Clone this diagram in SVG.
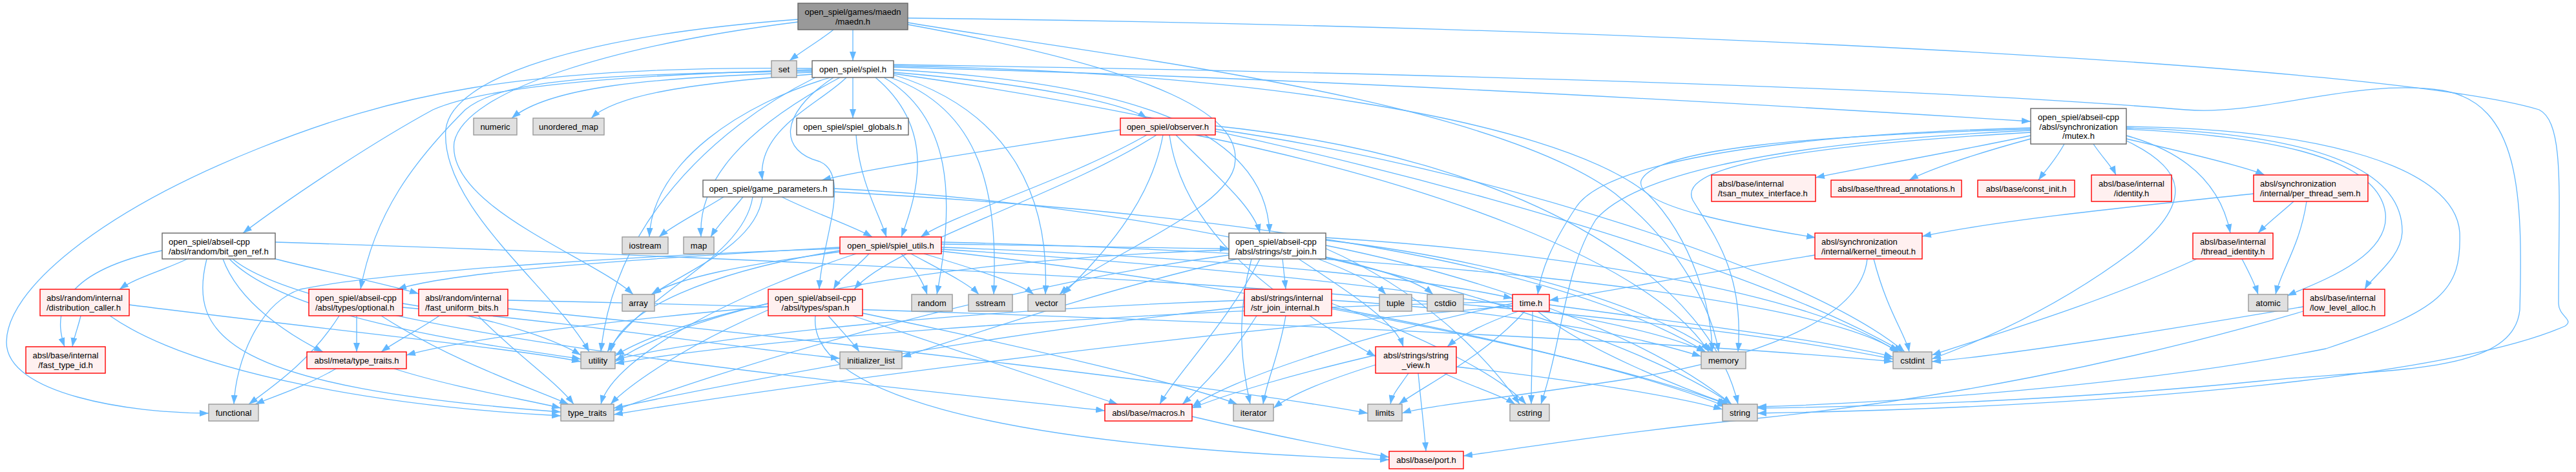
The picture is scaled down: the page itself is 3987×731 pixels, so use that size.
<svg xmlns="http://www.w3.org/2000/svg" width="3987" height="731" viewBox="0 0 3987 731">
<defs>
<marker id="a" viewBox="0 0 14 10" markerWidth="14" markerHeight="10" refX="14" refY="5" orient="auto" markerUnits="userSpaceOnUse"><path d="M0,0 L14,5 L0,10 z" fill="#63b8ff"/></marker>
</defs>
<style>
rect.root{fill:#999999;stroke:#666666;stroke-width:1.4}
rect.doc{fill:#ffffff;stroke:#666666;stroke-width:1.4}
rect.red{fill:#fff0f0;stroke:#ff0000;stroke-width:1.4}
rect.sys{fill:#e0e0e0;stroke:#999999;stroke-width:1.4}
text{font-family:"Liberation Sans",Arial,sans-serif;font-size:13px;fill:#000000}
text.c{text-anchor:middle}
#edges path{fill:none;stroke:#63b8ff;stroke-width:1.3;marker-end:url(#a)}
</style>
<rect width="3987" height="731" fill="#ffffff"/>
<g id="edges">
<path d="M1290,46 C1270,62 1240,80 1222,94"/>
<path d="M1320,46 L1320,94"/>
<path d="M1235,34 C950,70 720,140 703,220 C690,320 920,400 980,456"/>
<path d="M1235,30 C900,55 700,120 690,200 C680,320 860,450 912,545"/>
<path d="M1405,35 C1700,85 2300,150 2500,300 C2600,380 2650,480 2660,545"/>
<path d="M1405,38 C1800,110 1930,180 1910,260 C1890,330 1700,400 1640,456"/>
<path d="M1405,28 C2500,40 3700,100 3930,170 C3970,190 3960,300 3960,470 C3960,490 3985,495 3970,505 C3800,580 3300,630 2720,640"/>
<path d="M1257,112 C1000,120 850,135 792,183"/>
<path d="M1257,115 C1050,130 950,150 915,183"/>
<path d="M1257,108 C1000,115 760,130 670,170 C560,230 430,320 376,361"/>
<path d="M1257,106 C800,100 600,150 400,230 C150,330 10,450 10,530 C10,610 200,640 323,640"/>
<path d="M1257,110 C950,115 780,120 720,170 C640,250 580,330 558,448"/>
<path d="M1262,120 C1100,200 950,350 930,545"/>
<path d="M1285,120 C1150,160 1010,250 1005,367"/>
<path d="M1300,120 C1150,200 1080,280 1085,367"/>
<path d="M1310,120 C1270,160 1170,200 1180,279"/>
<path d="M1290,120 C1200,180 1210,235 1268,250 C1320,270 1270,380 1268,448"/>
<path d="M1320,120 L1320,183"/>
<path d="M1355,120 C1450,200 1420,300 1395,367"/>
<path d="M1368,120 C1470,180 1480,300 1450,456"/>
<path d="M1378,120 C1520,170 1545,300 1538,456"/>
<path d="M1383,116 C1560,170 1625,300 1618,456"/>
<path d="M1383,112 C1600,130 1740,160 1775,183"/>
<path d="M1383,108 C1800,130 1960,220 1965,361"/>
<path d="M1383,104 C2000,120 2700,160 3143,188"/>
<path d="M1383,102 C1900,110 2400,180 2550,300 C2620,370 2650,480 2650,545"/>
<path d="M1383,100 C2000,110 2900,130 3383,170 C3500,180 3650,120 3780,140 C3900,160 3905,300 3900,480 C3890,580 3700,570 3500,590 C3200,620 2900,630 2720,632"/>
<path d="M1383,114 C2000,200 2700,400 2945,545"/>
<path d="M1325,209 C1330,280 1360,330 1372,367"/>
<path d="M1734,201 C1550,230 1350,260 1272,279"/>
<path d="M1775,209 C1650,280 1480,330 1425,367"/>
<path d="M1790,209 C1650,300 1380,380 1322,448"/>
<path d="M1800,209 C1780,320 1700,400 1645,456"/>
<path d="M1810,209 C1830,350 1950,450 2129,552"/>
<path d="M1820,209 C1880,270 1940,320 1950,361"/>
<path d="M1850,209 C2200,280 2550,400 2645,545"/>
<path d="M1881,200 C2300,260 2800,420 2948,545"/>
<path d="M1881,195 C2400,250 2650,450 2690,626"/>
<path d="M1120,305 C1080,330 1040,350 1020,367"/>
<path d="M1150,305 C1130,330 1110,350 1100,367"/>
<path d="M1210,305 C1260,330 1320,350 1350,367"/>
<path d="M1165,305 C1150,400 1000,450 940,545"/>
<path d="M1180,305 C1170,380 1060,420 1010,456"/>
<path d="M1290,292 C1900,320 2500,500 2680,626"/>
<path d="M1290,297 C1900,330 2400,400 2640,545"/>
<path d="M1345,393 C1320,420 1300,430 1290,448"/>
<path d="M1395,393 C1420,420 1430,440 1435,456"/>
<path d="M1410,393 C1460,420 1500,440 1515,456"/>
<path d="M1430,393 C1520,420 1580,440 1600,456"/>
<path d="M1300,383 C1000,400 700,420 615,448"/>
<path d="M1300,388 C1100,420 960,480 945,545"/>
<path d="M1325,393 C1150,450 950,550 930,626"/>
<path d="M1300,385 C1000,395 600,420 465,448 C400,470 365,560 362,626"/>
<path d="M1300,390 C1150,410 1050,430 1008,456"/>
<path d="M1457,378 C1650,380 1800,385 1902,385"/>
<path d="M1457,383 C1900,400 2200,430 2341,462"/>
<path d="M1457,386 C2000,420 2500,480 2640,545"/>
<path d="M1457,389 C2000,450 2500,560 2672,626"/>
<path d="M1457,375 C2100,390 2800,450 2938,545"/>
<path d="M251,388 C100,420 80,480 100,537"/>
<path d="M290,401 C250,420 210,430 185,448"/>
<path d="M320,401 C290,520 350,600 868,638"/>
<path d="M345,401 C370,470 450,520 500,545"/>
<path d="M426,401 C500,420 600,440 648,455"/>
<path d="M355,401 C450,500 800,540 899,556"/>
<path d="M426,375 C1200,400 2400,450 2930,556"/>
<path d="M360,401 C500,520 1400,600 1710,636"/>
<path d="M125,489 C120,510 115,520 112,537"/>
<path d="M200,472 C500,510 800,540 899,560"/>
<path d="M170,489 C300,580 600,630 868,644"/>
<path d="M525,489 C480,560 420,600 385,626"/>
<path d="M552,489 L552,545"/>
<path d="M590,489 C700,560 820,600 880,626"/>
<path d="M623,470 C750,490 850,520 899,550"/>
<path d="M623,476 C900,500 1150,540 1300,555"/>
<path d="M680,489 C650,510 610,530 590,545"/>
<path d="M740,489 C800,550 860,590 888,626"/>
<path d="M786,465 C1500,480 2500,520 2930,560"/>
<path d="M786,478 C1300,530 1900,600 2117,640"/>
<path d="M520,571 C470,600 420,615 395,626"/>
<path d="M610,571 C700,600 820,620 868,632"/>
<path d="M1189,470 C1100,490 1000,520 952,551"/>
<path d="M1189,480 C1050,540 970,600 945,626"/>
<path d="M1189,475 C900,500 700,530 629,550"/>
<path d="M1282,489 C1300,510 1320,530 1330,545"/>
<path d="M1320,489 C1500,550 1650,600 1730,626"/>
<path d="M1335,485 C1600,540 1850,600 1915,626"/>
<path d="M1262,489 C1250,600 1500,690 2150,712"/>
<path d="M1985,401 L1990,448"/>
<path d="M2010,401 C2100,460 2160,500 2172,537"/>
<path d="M2040,401 C2090,420 2130,440 2145,456"/>
<path d="M2052,398 C2150,420 2200,440 2218,456"/>
<path d="M1915,401 C1700,450 1500,520 1396,553"/>
<path d="M1950,401 C1900,500 1820,580 1795,626"/>
<path d="M1937,401 C1910,500 1925,580 1935,626"/>
<path d="M1902,387 C1500,400 1100,460 952,560"/>
<path d="M1902,395 C1500,450 1100,580 950,636"/>
<path d="M2052,385 C2200,450 2300,550 2352,626"/>
<path d="M2052,380 C2300,430 2550,520 2680,626"/>
<path d="M2052,372 C2300,400 2550,470 2652,545"/>
<path d="M2052,368 C2400,390 2800,450 2940,547"/>
<path d="M1926,465 C1500,480 1100,520 952,557"/>
<path d="M1926,475 C1500,520 1100,600 950,632"/>
<path d="M1945,489 C1900,560 1860,600 1830,626"/>
<path d="M1990,489 C1980,550 1960,590 1955,626"/>
<path d="M2061,470 C2200,520 2320,580 2362,626"/>
<path d="M2061,476 C2300,520 2550,580 2672,630"/>
<path d="M2061,465 C2300,480 2500,510 2633,552"/>
<path d="M2350,482 C2300,500 2260,520 2240,537"/>
<path d="M2360,482 C2300,550 2200,600 2165,626"/>
<path d="M2380,482 C2450,540 2600,600 2675,626"/>
<path d="M2398,472 C2600,500 2850,530 2930,553"/>
<path d="M2341,470 C2100,520 1900,590 1845,630"/>
<path d="M2372,482 C2372,540 2370,590 2370,626"/>
<path d="M2341,474 C1800,520 1200,600 950,642"/>
<path d="M2341,467 C1800,480 1200,520 952,563"/>
<path d="M2129,550 C2000,580 1900,610 1845,632"/>
<path d="M2129,565 C2050,590 2000,610 1971,632"/>
<path d="M2180,578 C2165,600 2155,610 2152,626"/>
<path d="M2195,578 C2200,630 2205,670 2207,699"/>
<path d="M2235,578 C2280,600 2320,610 2345,626"/>
<path d="M2254,568 C2450,590 2600,615 2666,634"/>
<path d="M1845,645 C1950,670 2050,690 2150,708"/>
<path d="M2809,395 C2650,420 2500,450 2398,465"/>
<path d="M2890,401 C2880,500 2700,560 2500,590 C2300,620 2200,630 2170,640"/>
<path d="M2900,401 C2920,480 2950,520 2955,545"/>
<path d="M3143,210 C3000,240 2880,260 2810,275"/>
<path d="M3143,215 C3050,240 2980,265 2955,279"/>
<path d="M3195,223 C3180,250 3165,265 3155,279"/>
<path d="M3240,223 C3255,245 3270,260 3275,271"/>
<path d="M3291,215 C3400,240 3480,260 3505,271"/>
<path d="M3291,210 C3400,240 3440,300 3452,361"/>
<path d="M3143,200 C2800,210 2560,230 2540,280 C2530,320 2700,350 2810,368"/>
<path d="M3143,198 C2700,210 2480,260 2440,320 C2400,380 2385,420 2380,456"/>
<path d="M3143,202 C2750,220 2530,270 2470,340 C2420,420 2420,520 2385,626"/>
<path d="M3291,218 C3380,260 3400,310 3300,390 C3180,480 3060,530 2990,556"/>
<path d="M3291,200 C3500,210 3680,240 3692,330 C3700,400 3580,440 3540,458"/>
<path d="M3291,198 C3550,205 3720,250 3718,360 C3716,400 3670,430 3660,448"/>
<path d="M3291,196 C3600,200 3800,260 3807,360 C3810,450 3780,480 3600,540 C3300,600 2900,625 2720,630"/>
<path d="M3143,205 C2700,230 2600,270 2620,310 C2650,360 2700,420 2690,545"/>
<path d="M3488,300 C3300,320 3100,340 2975,366"/>
<path d="M3550,312 C3530,330 3510,345 3495,361"/>
<path d="M3570,312 C3560,380 3530,420 3522,456"/>
<path d="M3470,401 C3480,420 3490,440 3495,456"/>
<path d="M3400,401 C3250,470 3080,520 2990,550"/>
<path d="M3565,475 C3300,520 3100,550 2990,560"/>
<path d="M3565,482 C3300,560 3000,620 2700,650 C2500,670 2350,695 2265,706"/>
</g>
<g id="n_maedn"><rect class="root" x="1235" y="5" width="170" height="41"/><text class="c" x="1320" y="23">open_spiel/games/maedn</text><text class="c" x="1320" y="37.5">/maedn.h</text></g>
<g id="n_set"><rect class="sys" x="1194" y="94" width="39" height="26"/><text class="c" x="1213.5" y="111.5">set</text></g>
<g id="n_spiel"><rect class="doc" x="1257" y="94" width="126" height="26"/><text class="c" x="1320" y="111.5">open_spiel/spiel.h</text></g>
<g id="n_numeric"><rect class="sys" x="733" y="183" width="67" height="26"/><text class="c" x="766.5" y="200.5">numeric</text></g>
<g id="n_unordered_map"><rect class="sys" x="825" y="183" width="110" height="26"/><text class="c" x="880" y="200.5">unordered_map</text></g>
<g id="n_spiel_globals"><rect class="doc" x="1233" y="183" width="173" height="26"/><text class="c" x="1319.5" y="200.5">open_spiel/spiel_globals.h</text></g>
<g id="n_observer"><rect class="red" x="1734" y="183" width="147" height="26"/><text class="c" x="1807.5" y="200.5">open_spiel/observer.h</text></g>
<g id="n_mutex"><rect class="doc" x="3143" y="168" width="148" height="55"/><text class="c" x="3217" y="186">open_spiel/abseil-cpp</text><text class="c" x="3217" y="200.5">/absl/synchronization</text><text class="c" x="3217" y="215">/mutex.h</text></g>
<g id="n_game_parameters"><rect class="doc" x="1088" y="279" width="202" height="26"/><text class="c" x="1189" y="296.5">open_spiel/game_parameters.h</text></g>
<g id="n_tsan"><rect class="red" x="2649" y="271" width="161" height="41"/><text x="2659" y="289">absl/base/internal</text><text x="2659" y="303.5">/tsan_mutex_interface.h</text></g>
<g id="n_thread_annotations"><rect class="red" x="2834" y="279" width="202" height="26"/><text class="c" x="2935" y="296.5">absl/base/thread_annotations.h</text></g>
<g id="n_const_init"><rect class="red" x="3061" y="279" width="150" height="26"/><text class="c" x="3136" y="296.5">absl/base/const_init.h</text></g>
<g id="n_identity"><rect class="red" x="3237" y="271" width="124" height="41"/><text class="c" x="3299" y="289">absl/base/internal</text><text class="c" x="3299" y="303.5">/identity.h</text></g>
<g id="n_per_thread_sem"><rect class="red" x="3488" y="271" width="177" height="41"/><text x="3498" y="289">absl/synchronization</text><text x="3498" y="303.5">/internal/per_thread_sem.h</text></g>
<g id="n_bit_gen_ref"><rect class="doc" x="251" y="361" width="175" height="40"/><text x="261" y="379">open_spiel/abseil-cpp</text><text x="261" y="393.5">/absl/random/bit_gen_ref.h</text></g>
<g id="n_iostream"><rect class="sys" x="963" y="367" width="71" height="26"/><text class="c" x="998.5" y="384.5">iostream</text></g>
<g id="n_map"><rect class="sys" x="1058" y="367" width="47" height="26"/><text class="c" x="1081.5" y="384.5">map</text></g>
<g id="n_spiel_utils"><rect class="red" x="1300" y="367" width="157" height="26"/><text class="c" x="1378.5" y="384.5">open_spiel/spiel_utils.h</text></g>
<g id="n_str_join"><rect class="doc" x="1902" y="361" width="150" height="40"/><text x="1912" y="379">open_spiel/abseil-cpp</text><text x="1912" y="393.5">/absl/strings/str_join.h</text></g>
<g id="n_kernel_timeout"><rect class="red" x="2809" y="361" width="166" height="40"/><text x="2819" y="379">absl/synchronization</text><text x="2819" y="393.5">/internal/kernel_timeout.h</text></g>
<g id="n_thread_identity"><rect class="red" x="3394" y="361" width="124" height="40"/><text class="c" x="3456" y="379">absl/base/internal</text><text class="c" x="3456" y="393.5">/thread_identity.h</text></g>
<g id="n_distribution_caller"><rect class="red" x="62" y="448" width="138" height="41"/><text x="72" y="466">absl/random/internal</text><text x="72" y="480.5">/distribution_caller.h</text></g>
<g id="n_optional"><rect class="red" x="478" y="448" width="145" height="41"/><text x="488" y="466">open_spiel/abseil-cpp</text><text x="488" y="480.5">/absl/types/optional.h</text></g>
<g id="n_fast_uniform_bits"><rect class="red" x="648" y="448" width="138" height="41"/><text x="658" y="466">absl/random/internal</text><text x="658" y="480.5">/fast_uniform_bits.h</text></g>
<g id="n_array"><rect class="sys" x="963" y="456" width="50" height="26"/><text class="c" x="988" y="473.5">array</text></g>
<g id="n_span"><rect class="red" x="1189" y="448" width="146" height="41"/><text class="c" x="1262" y="466">open_spiel/abseil-cpp</text><text class="c" x="1262" y="480.5">/absl/types/span.h</text></g>
<g id="n_random"><rect class="sys" x="1411" y="456" width="63" height="26"/><text class="c" x="1442.5" y="473.5">random</text></g>
<g id="n_sstream"><rect class="sys" x="1499" y="456" width="68" height="26"/><text class="c" x="1533" y="473.5">sstream</text></g>
<g id="n_vector"><rect class="sys" x="1591" y="456" width="58" height="26"/><text class="c" x="1620" y="473.5">vector</text></g>
<g id="n_str_join_internal"><rect class="red" x="1926" y="448" width="135" height="41"/><text x="1936" y="466">absl/strings/internal</text><text x="1936" y="480.5">/str_join_internal.h</text></g>
<g id="n_tuple"><rect class="sys" x="2135" y="456" width="50" height="26"/><text class="c" x="2160" y="473.5">tuple</text></g>
<g id="n_cstdio"><rect class="sys" x="2209" y="456" width="56" height="26"/><text class="c" x="2237" y="473.5">cstdio</text></g>
<g id="n_time"><rect class="red" x="2341" y="456" width="57" height="26"/><text class="c" x="2369.5" y="473.5">time.h</text></g>
<g id="n_atomic"><rect class="sys" x="3480" y="456" width="61" height="26"/><text class="c" x="3510.5" y="473.5">atomic</text></g>
<g id="n_low_level_alloc"><rect class="red" x="3565" y="448" width="126" height="41"/><text x="3575" y="466">absl/base/internal</text><text x="3575" y="480.5">/low_level_alloc.h</text></g>
<g id="n_fast_type_id"><rect class="red" x="40" y="537" width="123" height="41"/><text class="c" x="101.5" y="555">absl/base/internal</text><text class="c" x="101.5" y="569.5">/fast_type_id.h</text></g>
<g id="n_meta_type_traits"><rect class="red" x="475" y="545" width="154" height="26"/><text class="c" x="552" y="562.5">absl/meta/type_traits.h</text></g>
<g id="n_utility"><rect class="sys" x="899" y="545" width="53" height="26"/><text class="c" x="925.5" y="562.5">utility</text></g>
<g id="n_initializer_list"><rect class="sys" x="1300" y="545" width="96" height="26"/><text class="c" x="1348" y="562.5">initializer_list</text></g>
<g id="n_string_view"><rect class="red" x="2129" y="537" width="125" height="41"/><text class="c" x="2191.5" y="555">absl/strings/string</text><text class="c" x="2191.5" y="569.5">_view.h</text></g>
<g id="n_memory"><rect class="sys" x="2633" y="545" width="69" height="26"/><text class="c" x="2667.5" y="562.5">memory</text></g>
<g id="n_cstdint"><rect class="sys" x="2930" y="545" width="60" height="26"/><text class="c" x="2960" y="562.5">cstdint</text></g>
<g id="n_functional"><rect class="sys" x="323" y="626" width="77" height="26"/><text class="c" x="361.5" y="643.5">functional</text></g>
<g id="n_type_traits"><rect class="sys" x="868" y="626" width="82" height="26"/><text class="c" x="909" y="643.5">type_traits</text></g>
<g id="n_macros"><rect class="red" x="1710" y="626" width="135" height="26"/><text class="c" x="1777.5" y="643.5">absl/base/macros.h</text></g>
<g id="n_iterator"><rect class="sys" x="1909" y="626" width="62" height="26"/><text class="c" x="1940" y="643.5">iterator</text></g>
<g id="n_limits"><rect class="sys" x="2117" y="626" width="53" height="26"/><text class="c" x="2143.5" y="643.5">limits</text></g>
<g id="n_cstring"><rect class="sys" x="2337" y="626" width="61" height="26"/><text class="c" x="2367.5" y="643.5">cstring</text></g>
<g id="n_string"><rect class="sys" x="2666" y="626" width="54" height="26"/><text class="c" x="2693" y="643.5">string</text></g>
<g id="n_port"><rect class="red" x="2150" y="699" width="115" height="27"/><text class="c" x="2207.5" y="717">absl/base/port.h</text></g>
</svg>
